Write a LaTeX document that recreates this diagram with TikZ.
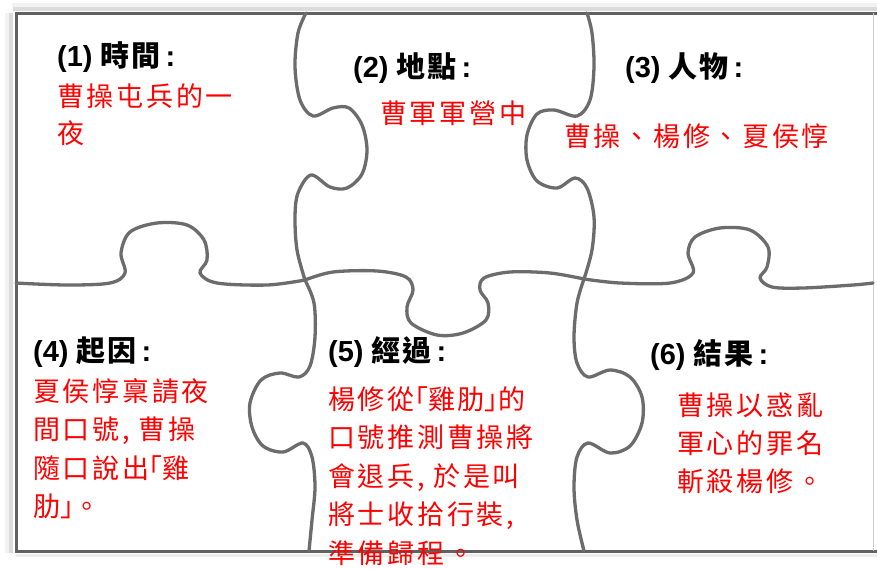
\documentclass[tikz,border=0pt]{standalone}
\usepackage{fontspec}
\setmainfont{Liberation Sans}
\newfontfamily\cjkbody{Noto Sans CJK TC}[LetterSpace=10]
\newfontfamily\cjkhead{Noto Sans CJK TC}[LetterSpace=5]
\newcommand\pzhead[2]{\textbf{#1} {\cjkhead\bfseries #2}\hspace{4pt}\textbf{:}}
\newcommand\hb[1]{{\addfontfeature{RawFeature=+halt}#1}}
\definecolor{seamgray}{RGB}{108,108,108}
\tikzset{
  seam/.style={draw=seamgray, line width=3.3pt, line cap=round, line join=round},
  frametop/.style={draw=black!62, line width=3pt},
  head/.style={anchor=base west, inner sep=0pt, text=black, font=\fontsize{29}{34}\selectfont},
  body/.style={anchor=base west, inner sep=0pt, align=left, text=red, font=\cjkbody\fontsize{27}{38}\selectfont},
}
\begin{document}
\begin{tikzpicture}[x=1pt,y=-1pt]
\useasboundingbox[fill=white] (0,0) rectangle (877,568);
% shadows of the frame
\draw[line width=4pt, black!5] (12,5) -- (877,5);
\draw[line width=4pt, black!14] (13,9) -- (877,9);
\draw[line width=4pt, black!5] (7,13) -- (7,553);
\draw[line width=4pt, black!14] (11,13) -- (11,553);
\draw[line width=3pt, black!7] (16,555) -- (877,555);
% frame
\draw[frametop] (877,13) -- (16,13) -- (16,551) -- (877,551);
\draw[line width=1pt, black!20] (873,13) -- (873,551);
% seam A: piece 1 tab into piece 2
\draw[seam] plot[smooth, tension=0.55] coordinates {
 (306,13) (298,33) (295,67) (300,100) (313,116) (333,108) (349,108)
 (362,125) (367,150) (362,174) (347,188) (330,187) (311,175)
 (298,193) (295,217) (297,250) (305,280)};
% seam B: piece 4 tab into piece 1
\draw[seam] plot[smooth, tension=0.55] coordinates {
 (16,283) (67,285) (110,283) (125,273) (121,253) (130,232) (157,223)
 (187,225) (204,240) (207,260) (200,273) (217,283) (267,285) (305,280)};
% seam C: piece 2 tab into piece 5
\draw[seam] plot[smooth, tension=0.55] coordinates {
 (305,280) (333,272) (377,271) (406,277) (413,290) (407,307) (411,323)
 (437,335) (463,333) (486,320) (488,303) (480,290) (484,278) (510,272)
 (550,273) (584,279)};
% seam D: piece 3 tab into piece 2
\draw[seam] plot[smooth, tension=0.55] coordinates {
 (587,13) (592,33) (594,67) (590,100) (577,116) (554,110) (537,114)
 (527,135) (527,160) (537,181) (557,188) (575,178) (587,188) (594,217)
 (592,250) (584,279)};
% seam E: piece 6 tab into piece 3
\draw[seam] plot[smooth, tension=0.55] coordinates {
 (584,279) (620,283) (670,283) (693,273) (688,253) (695,237) (720,228)
 (750,230) (768,247) (767,267) (760,278) (772,287) (803,288) (853,285) (873,283)};
% seam F: piece 5 tab into piece 4
\draw[seam] plot[smooth, tension=0.55] coordinates {
 (305,280) (314,303) (315,337) (310,366) (299,377) (280,373) (261,380)
 (250,403) (252,427) (263,446) (283,452) (303,443) (312,457) (315,487)
 (312,520) (309,551)};
% seam G: piece 5 tab into piece 6
\draw[seam] plot[smooth, tension=0.55] coordinates {
 (584,279) (577,303) (574,337) (577,363) (588,377) (610,370) (630,377)
 (642,397) (642,423) (630,446) (610,453) (588,443) (577,457) (574,487)
 (577,520) (584,551)};
% headings
\node[head] (h1) at (57,66) {\pzhead{(1)}{時間}};
\node[head] (h2) at (353,77) {\pzhead{(2)}{地點}};
\node[head] (h3) at (625,77) {\pzhead{(3)}{人物}};
\node[head] (h4) at (33,361) {\pzhead{(4)}{起因}};
\node[head] (h5) at (328,361) {\pzhead{(5)}{經過}};
\node[head] (h6) at (650,364) {\pzhead{(6)}{結果}};
% bodies (base anchor = baseline of the last line)
\node[body, font=\cjkbody\fontsize{27}{37}\selectfont] (b1) at (57,143) {曹操屯兵的一\\夜};
\node[body] (b2) at (380,123) {曹軍軍營中};
\node[body] (b3) at (564,146) {曹操、楊修、夏侯惇};
\node[body, font=\cjkbody\fontsize{27}{38.5}\selectfont] (b4) at (33,516.5) {夏侯惇稟請夜\\間口號, 曹操\\隨口說出\hb{「}雞\\肋\hb{」}。};
\node[body, font=\cjkbody\fontsize{27}{38.5}\selectfont] (b5) at (328,563) {楊修從\hb{「}雞肋\hb{」}的\\口號推測曹操將\\會退兵, 於是叫\\將士收拾行裝,\\準備歸程。};
\node[body] (b6) at (677,491) {曹操以惑亂\\軍心的罪名\\斬殺楊修。};
\end{tikzpicture}
\end{document}
